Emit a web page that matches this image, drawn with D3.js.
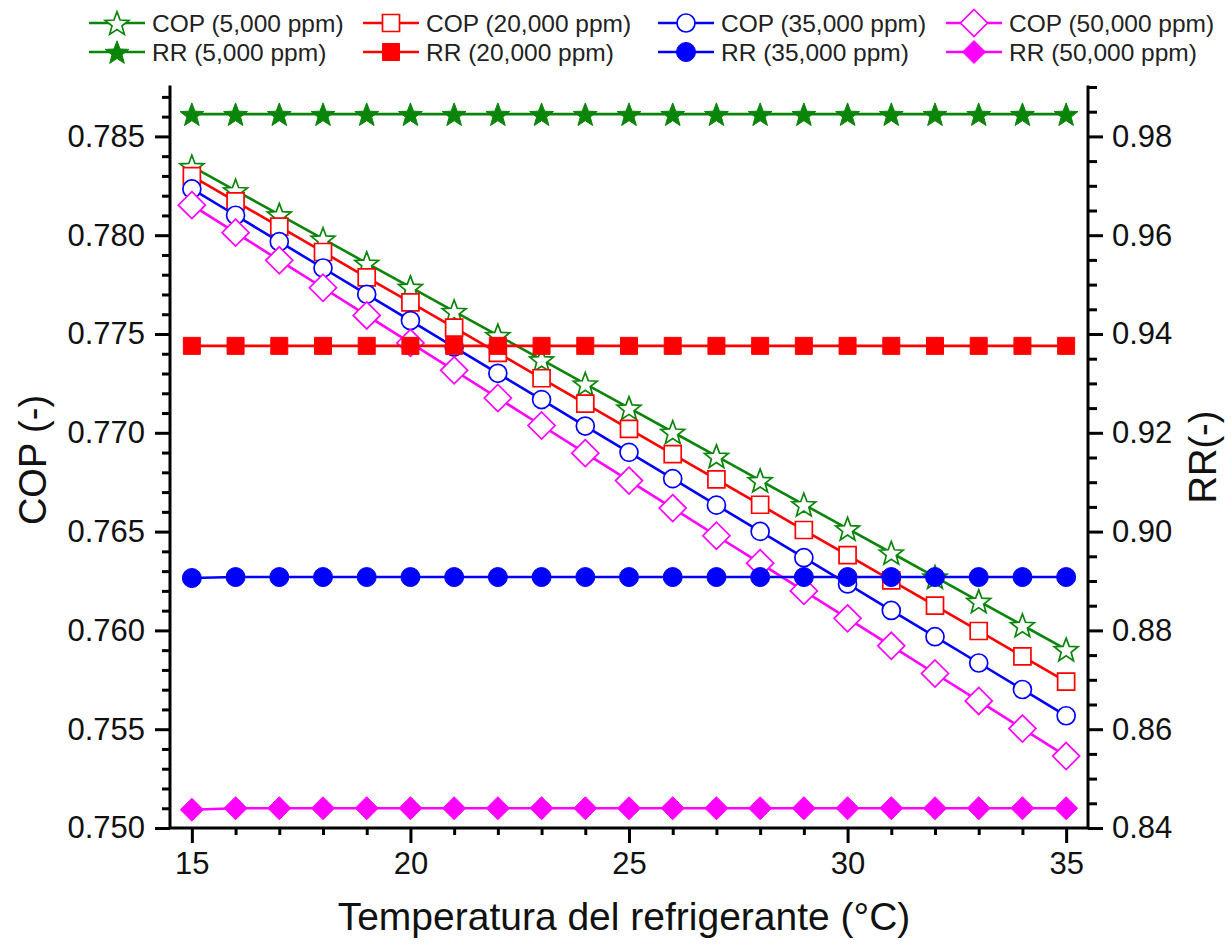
<!DOCTYPE html>
<html>
<head>
<meta charset="utf-8">
<script src="https://cdn.jsdelivr.net/npm/d3@7"></script>
<style>
  html, body { margin: 0; padding: 0; background: #ffffff; }
  svg { display: block; font-family: "Liberation Sans", Arial, sans-serif; }
</style>
</head>
<body>
<svg id="chart" width="1232" height="947"></svg>
<script>
// Refrigerant temperature (°C)
const temperatures = [15, 16, 17, 18, 19, 20, 21, 22, 23, 24, 25, 26, 27, 28, 29, 30, 31, 32, 33, 34, 35];

// COP (-) for each ammonia concentration
const cop5000 = [0.78348, 0.78226, 0.78104, 0.77981, 0.77859, 0.77737, 0.77615, 0.77493, 0.77370, 0.77248, 0.77126,
                 0.77004, 0.76882, 0.76759, 0.76637, 0.76515, 0.76393, 0.76271, 0.76148, 0.76026, 0.75904];
const cop20000 = [0.78299, 0.78171, 0.78043, 0.77915, 0.77787, 0.77660, 0.77532, 0.77404, 0.77276, 0.77148, 0.77020,
                  0.76892, 0.76764, 0.76636, 0.76508, 0.76381, 0.76253, 0.76125, 0.75997, 0.75869, 0.75741];
const cop35000 = [0.78234, 0.78101, 0.77967, 0.77834, 0.77701, 0.77568, 0.77434, 0.77301, 0.77168, 0.77034, 0.76901,
                  0.76768, 0.76634, 0.76501, 0.76368, 0.76235, 0.76101, 0.75968, 0.75835, 0.75701, 0.75568];
const cop50000 = [0.78152, 0.78013, 0.77873, 0.77734, 0.77594, 0.77455, 0.77316, 0.77176, 0.77037, 0.76897, 0.76758,
                  0.76619, 0.76479, 0.76340, 0.76200, 0.76061, 0.75922, 0.75782, 0.75643, 0.75503, 0.75364];

// RR (-) for each ammonia concentration
const rr5000 = [0.9845, 0.9845, 0.9845, 0.9845, 0.9845, 0.9845, 0.9845, 0.9845, 0.9845, 0.9845, 0.9845,
                0.9845, 0.9845, 0.9845, 0.9845, 0.9845, 0.9845, 0.9845, 0.9845, 0.9845, 0.9845];
const rr20000 = [0.9376, 0.9376, 0.9376, 0.9376, 0.9376, 0.9376, 0.9376, 0.9376, 0.9376, 0.9376, 0.9376,
                 0.9376, 0.9376, 0.9376, 0.9376, 0.9376, 0.9376, 0.9376, 0.9376, 0.9376, 0.9376];
const rr35000 = [0.8906, 0.8908, 0.8908, 0.8908, 0.8908, 0.8908, 0.8908, 0.8908, 0.8908, 0.8908, 0.8908,
                 0.8908, 0.8908, 0.8908, 0.8908, 0.8908, 0.8908, 0.8908, 0.8908, 0.8908, 0.8908];
const rr50000 = [0.8437, 0.8440, 0.8440, 0.8440, 0.8440, 0.8440, 0.8440, 0.8440, 0.8440, 0.8440, 0.8440,
                 0.8440, 0.8440, 0.8440, 0.8440, 0.8440, 0.8440, 0.8440, 0.8440, 0.8440, 0.8440];

// Tick labels
const xTicks = [15, 20, 25, 30, 35];
const copTicks = [0.750, 0.755, 0.760, 0.765, 0.770, 0.775, 0.780, 0.785];
const rrTicks = [0.84, 0.86, 0.88, 0.90, 0.92, 0.94, 0.96, 0.98];

// Legend labels
const copLabels = ["COP (5,000 ppm)", "COP (20,000 ppm)", "COP (35,000 ppm)", "COP (50,000 ppm)"];
const rrLabels = ["RR (5,000 ppm)", "RR (20,000 ppm)", "RR (35,000 ppm)", "RR (50,000 ppm)"];

const svg = d3.select("#chart");
const plot = { left: 170, right: 1088, top: 87, bottom: 828 };

const x = d3.scaleLinear().domain([14.5, 35.5]).range([plot.left, plot.right]);
const yCop = d3.scaleLinear().domain([0.75, 0.7875]).range([plot.bottom, plot.top]);
const yRR = d3.scaleLinear().domain([0.84, 0.99]).range([plot.bottom, plot.top]);

const colors = ["#0a850a", "#ff0000", "#0000ff", "#ff00ff"];
const shapes = ["star", "square", "circle", "diamond"];

// Marker path builders (centered at 0,0)
function starPath(R) {
  const r = R * 0.42;
  const pts = [];
  for (let i = 0; i < 10; i++) {
    const rad = i % 2 === 0 ? R : r;
    const a = -Math.PI / 2 + i * Math.PI / 5;
    pts.push([rad * Math.cos(a), rad * Math.sin(a) + R * 0.1]);
  }
  return "M" + pts.map(p => p[0].toFixed(2) + "," + p[1].toFixed(2)).join("L") + "Z";
}
function markerPath(shape, filled) {
  switch (shape) {
    case "star": return starPath(12.5);
    case "square": { const h = 8.5; return `M${-h},${-h}H${h}V${h}H${-h}Z`; }
    case "circle": { const r = filled ? 9.5 : 9; return `M${r},0A${r},${r} 0 1,1 ${-r},0A${r},${r} 0 1,1 ${r},0Z`; }
    case "diamond": { const h = filled ? 11.5 : 13.5; return `M0,${-h}L${h},0L0,${h}L${-h},0Z`; }
  }
}

const copSeries = [cop5000, cop20000, cop35000, cop50000];
const rrSeries = [rr5000, rr20000, rr35000, rr50000];

// Axes
const axisW = 3;
const gAxes = svg.append("g");

// bottom axis: major and minor ticks
gAxes.append("g").attr("transform", `translate(0,${plot.bottom})`)
  .call(d3.axisBottom(x).tickValues(xTicks).tickSize(15).tickPadding(9).tickFormat(d3.format("d")));
gAxes.append("g").attr("transform", `translate(0,${plot.bottom})`)
  .call(d3.axisBottom(x).tickValues(temperatures.filter(t => !xTicks.includes(t))).tickSize(7).tickFormat(""));

// left axis (COP)
gAxes.append("g").attr("transform", `translate(${plot.left},0)`)
  .call(d3.axisLeft(yCop).tickValues(copTicks).tickSize(15).tickPadding(10).tickFormat(d3.format(".3f")));
const copMinor = d3.range(750, 788).map(v => v / 1000).filter(v => !copTicks.some(t => Math.abs(t - v) < 1e-9));
gAxes.append("g").attr("transform", `translate(${plot.left},0)`)
  .call(d3.axisLeft(yCop).tickValues(copMinor).tickSize(8).tickFormat(""));

// right axis (RR)
gAxes.append("g").attr("transform", `translate(${plot.right},0)`)
  .call(d3.axisRight(yRR).tickValues(rrTicks).tickSize(15).tickPadding(9).tickFormat(d3.format(".2f")));
const rrMinor = d3.range(168, 199).map(v => v / 200).filter(v => !rrTicks.some(t => Math.abs(t - v) < 1e-9));
gAxes.append("g").attr("transform", `translate(${plot.right},0)`)
  .call(d3.axisRight(yRR).tickValues(rrMinor).tickSize(9).tickFormat(""));

gAxes.selectAll(".domain").remove();
gAxes.selectAll(".tick line").attr("stroke", "#000").attr("stroke-width", axisW);
gAxes.selectAll(".tick text").attr("fill", "#111").style("font-size", "31px")
  .style("font-family", "'Liberation Sans', Arial, sans-serif");

// axis lines (open top)
gAxes.append("path")
  .attr("d", `M${plot.left},${plot.top}V${plot.bottom}H${plot.right}V${plot.top}`)
  .attr("fill", "none").attr("stroke", "#000").attr("stroke-width", axisW)
  .attr("stroke-linejoin", "miter").attr("stroke-linecap", "square");

// Series: lines with markers, COP first then RR on top
const gData = svg.append("g");
function drawSeries(values, yScale, color, shape, filled) {
  const pts = temperatures.map((t, i) => [x(t), yScale(values[i])]);
  gData.append("path")
    .attr("d", d3.line()(pts))
    .attr("fill", "none").attr("stroke", color).attr("stroke-width", 2.6);
  gData.append("g").selectAll("path").data(pts).join("path")
    .attr("transform", d => `translate(${d[0]},${d[1]})`)
    .attr("d", markerPath(shape, filled))
    .attr("fill", filled ? color : "#ffffff")
    .attr("stroke", color)
    .attr("stroke-width", filled ? 1 : 1.7)
    .attr("stroke-linejoin", "miter");
}
copSeries.forEach((s, i) => drawSeries(s, yCop, colors[i], shapes[i], false));
rrSeries.forEach((s, i) => drawSeries(s, yRR, colors[i], shapes[i], true));

// Axis titles
svg.append("text")
  .attr("x", 624).attr("y", 930)
  .attr("text-anchor", "middle").attr("fill", "#111")
  .style("font-size", "39px")
  .text("Temperatura del refrigerante (°C)");
svg.append("text")
  .attr("transform", "translate(46,460) rotate(-90)")
  .attr("text-anchor", "middle").attr("fill", "#111")
  .style("font-size", "38px")
  .text("COP (-)");
svg.append("text")
  .attr("transform", "translate(1216,457) rotate(-90)")
  .attr("text-anchor", "middle").attr("fill", "#111")
  .style("font-size", "38px")
  .text("RR(-)");

// Legend
const legendX = [89, 363, 658, 946];
const legendRowY = [23, 52];
const gLeg = svg.append("g");
function legendEntry(col, row, label, filled) {
  const x0 = legendX[col], x1 = x0 + 56, cy = legendRowY[row];
  gLeg.append("line").attr("x1", x0).attr("x2", x1).attr("y1", cy).attr("y2", cy)
    .attr("stroke", colors[col]).attr("stroke-width", 2.6);
  gLeg.append("path")
    .attr("transform", `translate(${(x0 + x1) / 2},${cy})`)
    .attr("d", markerPath(shapes[col], filled))
    .attr("fill", filled ? colors[col] : "#ffffff")
    .attr("stroke", colors[col]).attr("stroke-width", filled ? 1 : 1.7);
  gLeg.append("text").attr("x", x1 + 7).attr("y", cy).attr("dy", "0.35em")
    .attr("fill", "#222").style("font-size", "24.5px").text(label);
}
copLabels.forEach((l, i) => legendEntry(i, 0, l, false));
rrLabels.forEach((l, i) => legendEntry(i, 1, l, true));
</script>
</body>
</html>
